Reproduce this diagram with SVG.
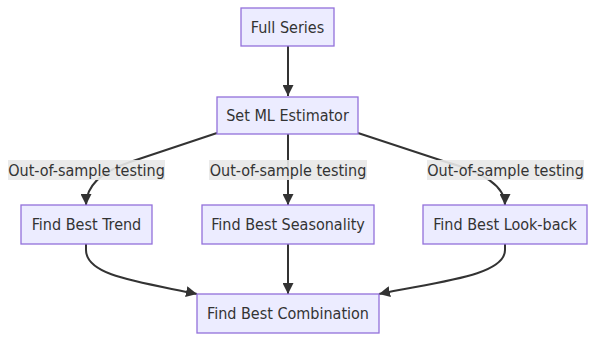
<svg xmlns="http://www.w3.org/2000/svg" width="595" height="341" viewBox="0 0 595 341">
<style>
.node rect{fill:#ECECFF;stroke:#9370DB;stroke-width:1.3}
text{font-family:"DejaVu Sans Condensed","DejaVu Sans","Liberation Sans",sans-serif;font-stretch:condensed;font-size:16px;fill:#333;text-anchor:middle;dominant-baseline:central}
.edge{fill:none;stroke:#333;stroke-width:2}
.lbl rect{fill:#e8e8e8;opacity:0.9}
</style>
<defs>
<marker id="arr" viewBox="0 0 10 10" refX="10" refY="5" markerUnits="userSpaceOnUse" markerWidth="11" markerHeight="11" orient="auto">
<path d="M0,0 L10,5 L0,10 z" fill="#333"/>
</marker>
</defs>
<rect width="595" height="341" fill="#fff"/>
<g id="edges">
<path class="edge" d="M288,46 L288,96" marker-end="url(#arr)"/>
<path class="edge" d="M217,133 L130,162 Q86,177 86,205" marker-end="url(#arr)"/>
<path class="edge" d="M288,134 L288,205" marker-end="url(#arr)"/>
<path class="edge" d="M358,133 L446,162 Q505,178 505,205" marker-end="url(#arr)"/>
<path class="edge" d="M86,244 L86,250 C86,276 140,282 197,294" marker-end="url(#arr)"/>
<path class="edge" d="M288,244 L288,294" marker-end="url(#arr)"/>
<path class="edge" d="M505,244 L505,250 C505,276 436,282 379,294" marker-end="url(#arr)"/>
<g class="lbl">
<rect x="8" y="160" width="157" height="20"/><text x="86.5" y="170">Out-of-sample testing</text>
<rect x="209" y="160" width="158" height="20"/><text x="288" y="170">Out-of-sample testing</text>
<rect x="427" y="160" width="157" height="20"/><text x="505.5" y="170">Out-of-sample testing</text>
</g>
</g>
<g id="n1" class="node"><rect x="241" y="8" width="93" height="38"/><text x="287.5" y="27">Full Series</text></g>
<g id="n2" class="node"><rect x="217" y="97" width="141" height="37"/><text x="287.5" y="115.5">Set ML Estimator</text></g>
<g id="n3" class="node"><rect x="21" y="205" width="131" height="39"/><text x="86.5" y="224.5">Find Best Trend</text></g>
<g id="n4" class="node"><rect x="202" y="205" width="172" height="39"/><text x="288" y="224.5">Find Best Seasonality</text></g>
<g id="n5" class="node"><rect x="423" y="205" width="164" height="39"/><text x="505" y="224.5">Find Best Look-back</text></g>
<g id="n6" class="node"><rect x="197" y="294" width="182" height="39"/><text x="288" y="313.5">Find Best Combination</text></g>
</svg>
